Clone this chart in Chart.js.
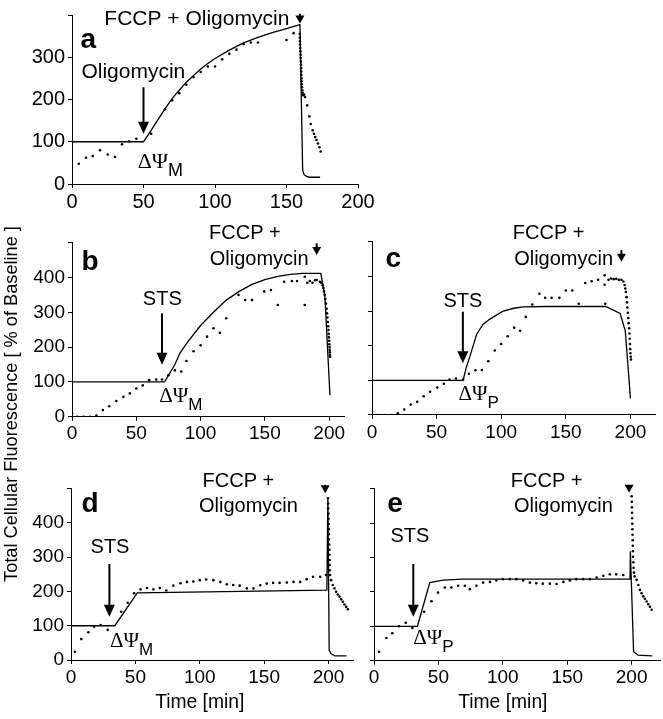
<!DOCTYPE html>
<html>
<head>
<meta charset="utf-8">
<script src="https://cdn.jsdelivr.net/npm/chart.js@4/dist/chart.umd.min.js"></script>
<style>
body { margin: 0; background: #fff; }
canvas { position: absolute; left: 0; top: 0; }
</style>
</head>
<body>
<canvas id="pa" width="663" height="719"></canvas>
<canvas id="pb" width="663" height="719"></canvas>
<canvas id="pc" width="663" height="719"></canvas>
<canvas id="pd" width="663" height="719"></canvas>
<canvas id="pe" width="663" height="719"></canvas>
<script>
'use strict';

// tick labels
let yLabelsA = [0, 100, 200, 300];
let yLabelsB = [0, 100, 200, 300, 400];
let noLabels = [];

// panel a
let aLine = [[0,100],[50,100],[55,125],[60,152],[65,178],[70,202],[75,222],[80,241],[85,257],[90,272],[95,285],[100,297],[110,317],[120,334],[130,347],[140,358],[150,368],[159.4,377],[161.3,32],[162.3,22],[164,18],[166,16],[173.5,16]];
let aDots = [[4.7,48],[9.8,62],[14.5,66],[19.6,80],[25,70],[30,64],[35,94],[40,101],[45,107],[55.4,119],[65,177],[70,198],[75,215],[80,235],[85,253],[90,265],[95,278],[100,278],[105,295],[110,308],[115,318],[120,331],[125,335],[130,335],[150,341],[155,357],
  [159.2,355],[159.3,346],[159.4,338],[159.5,330],[159.6,322],[159.7,314],[159.8,306],[159.9,298],[160,290],[160.1,282],[160.2,274],[160.3,266],[160.4,258],[160.5,250],[160.6,243],[160.7,236],[160.8,229],[161,222],[161.3,216],[161.7,210],[162.3,212],[163,206],[164.5,186],[166,160],[166.9,142],[168.3,127],[169.2,119],[170.1,111],[171,104],[172,96],[173,87],[173.9,77]];

// panel b
let bLine = [[0,100],[72,100],[80,150],[84,183],[90,215],[100,262],[110,300],[120,335],[130,360],[140,380],[150,394],[160,403],[170,409],[178.8,412],[193.5,412],[196.7,345],[200.6,62]];
let bDots = [[0,10],[4,0],[9,0],[14,0],[19,3],[24,19],[29,30],[34.5,45],[40,57],[45,67],[50,81],[55,90],[60,105],[65.5,107],[70,107],[75,119],[80,133],[85,130],[89,160],[94.5,188],[100,205],[105,230],[110,254],[115,241],[120,283],[129.5,350],[134.7,335],[140,335],[149.5,360],[154.7,364],[160,321],[165,388],[171,390],[175,390],[181,402],[181,321],[183,385],[185,390],[187,385],[189,392],[190.3,393],[192.8,388],
  [194,384],[195,378],[195.5,370],[196,360],[196.5,350],[197,338],[197.5,325],[198,310],[198.3,297],[198.6,285],[198.9,272],[199.2,260],[199.4,249],[199.6,238],[199.8,228],[200,218],[200.1,208],[200.3,200],[200.4,192],[200.5,185],[200.6,178],[200.7,172]];

// panel c
let cLine = [[0,100],[70.5,100],[73,138],[75.6,167],[81,233],[86,262],[91,276],[96.5,289],[101.6,300],[109.6,308],[117,312],[134.6,313],[180.8,313],[192,293],[196,243],[200,48]];
let cDots = [[0,10],[5,0],[10,0],[15,0],[20,5],[25,16],[30,30],[35,38],[40,54],[45,67],[50.5,79],[55.6,90],[60,102],[65,105],[70.5,102],[75,119],[80,129],[85,130],[90,155],[95,186],[100,205],[105,227],[110,252],[114.6,243],[119,283],[124,319],[129.5,350],[134,338],[139,338],[145,338],[150,359],[155,359],[160,321],[165,381],[170,386],[175,390],[180,403],[180,376],[180.5,321],[183,390],[185,394],[187,392],[189,393],[191,390],[193,390],[194.5,385],
  [195.5,375],[196,365],[196.5,355],[197,340],[197.3,325],[197.6,310],[198,295],[198.3,280],[198.6,265],[198.9,250],[199.2,235],[199.4,220],[199.6,205],[199.8,190],[200,178],[200.2,168],[200.4,160]];

// panel d
let dLine = [[0,100],[34,100],[51.5,196],[198.7,204],[199.5,476],[200.5,29],[202,18],[205,12],[214,12]];
let dDots = [[3,24],[8,61],[13.5,81],[18,97],[23,102],[28.5,88],[39,141],[44,167],[49,195],[54,206],[59,210],[64,206],[69,210],[74,203],[79.5,217],[85,224],[90,228],[95,229],[100,233],[105,235],[110.6,233],[116,228],[121,221],[126,219],[131,217],[136.5,209],[141.7,209],[147,218],[152,223],[157,225],[162,225],[167.6,226],[172.8,228],[178,228],[183,236],[188,243],[193.5,243],[198,248],
  [199.6,472],[199.7,457],[199.8,442],[199.9,427],[200,412],[200.1,397],[200.2,382],[200.3,367],[200.4,352],[200.5,337],[200.6,322],[200.7,307],[200.8,292],[200.9,277],[201,262],[201.2,248],[202,233],[203.3,219],[204.6,209],[205.9,199],[207.2,191],[208.5,185],[209.8,177],[211.1,170],[212.4,162],[213.7,155],[215,148]];

// panel e
let eLine = [[0,100],[33.7,100],[43.3,227],[53.6,234],[69,237],[198.7,237],[199,318],[201.5,26],[205,16],[216,14]];
let eDots = [[3.9,26],[9.6,66],[14.2,80],[19.4,100],[24.6,110],[29.8,95],[38.9,142],[44.6,173],[49.7,198],[55,213],[60,213],[65.3,218],[70.5,218],[74.4,208],[79.5,218],[84.7,227],[90,229],[95,233],[100,237],[105.4,237],[110.6,237],[115.8,233],[121,227],[126,225],[131,224],[136.5,224],[141.7,223],[147,229],[152,233],[157,237],[162.4,237],[167.6,237],[172.8,242],[178,247],[183,251],[188,251],[193.5,249],
  [200,478],[200.1,462],[200.2,446],[200.3,430],[200.4,414],[200.5,398],[200.6,382],[200.7,366],[200.8,350],[200.9,334],[201,318],[201.1,302],[201.3,286],[201.5,270],[201.8,256],[202.3,245],[203.9,235],[205.2,220],[206.4,206],[207.7,196],[209,187],[210.3,180],[211.6,172],[212.9,164],[214.2,157],[215.5,148]];

const SANS = "'Liberation Sans', Arial, Helvetica, sans-serif";
const SERIF = "'Liberation Serif', 'Times New Roman', serif";

function drawArrow(ctx, x, y0, y1, big) {
    let hl = big ? 12 : 8;
    let hw = big ? 5.5 : 4.5;
    ctx.lineWidth = 2;
    ctx.beginPath();
    ctx.moveTo(x, y0);
    ctx.lineTo(x, y1 - hl + 1);
    ctx.stroke();
    ctx.beginPath();
    ctx.moveTo(x - hw, y1 - hl);
    ctx.lineTo(x + hw, y1 - hl);
    ctx.lineTo(x, y1);
    ctx.closePath();
    ctx.fill();
}

const notesPlugin = {
    id: 'notes',
    afterDraw(chart, args, o) {
        let ctx = chart.ctx;
        let px = v => chart.scales.x.getPixelForValue(v);
        let py = v => chart.scales.y.getPixelForValue(v);
        ctx.save();
        ctx.fillStyle = '#000';
        ctx.strokeStyle = '#000';
        ctx.textBaseline = 'alphabetic';
        if (o.letter) {
            ctx.font = 'bold 28px ' + SANS;
            ctx.textAlign = 'center';
            ctx.fillText(o.letter.text, px(o.letter.x), py(o.letter.y));
        }
        (o.texts || []).forEach(t => {
            ctx.font = (t.size || o.size) + 'px ' + SANS;
            ctx.textAlign = 'center';
            ctx.fillText(t.text, px(t.x), py(t.y));
        });
        (o.arrows || []).forEach(a => drawArrow(ctx, px(a.x), py(a.from), py(a.to), a.big));
        if (o.psi) {
            ctx.textAlign = 'left';
            ctx.font = (o.size + 1) + 'px ' + SERIF;
            let x0 = px(o.psi.x), y0 = py(o.psi.y);
            ctx.fillText('\u0394\u03A8', x0, y0);
            let w = ctx.measureText('\u0394\u03A8').width;
            ctx.font = (o.size - 3) + 'px ' + SANS;
            ctx.fillText(o.psi.sub, x0 + w, y0 + 8);
        }
        if (o.yTitle) {
            ctx.translate(o.yTitle.cx, o.yTitle.cy);
            ctx.rotate(-Math.PI / 2);
            ctx.font = '18.2px ' + SANS;
            ctx.textAlign = 'center';
            ctx.textBaseline = 'middle';
            ctx.fillText(o.yTitle.text, 0, 0);
        }
        ctx.restore();
    }
};

function makePanel(id, line, dots, xMax, yMax, yLabels, tickSize, pad, notes) {
    let ctx = document.getElementById(id).getContext('2d');
    return new Chart(ctx, {
        type: 'scatter',
        data: {
            datasets: [{
                data: line.map(p => ({x: p[0], y: p[1]})),
                showLine: true,
                borderColor: '#000',
                borderWidth: 1.3,
                pointRadius: 0,
                tension: 0
            }, {
                data: dots.map(p => ({x: p[0], y: p[1]})),
                showLine: false,
                backgroundColor: '#000',
                borderWidth: 0,
                pointRadius: 1.3
            }]
        },
        options: {
            responsive: false,
            animation: false,
            devicePixelRatio: 1,
            layout: { padding: pad, autoPadding: false },
            plugins: { legend: { display: false }, tooltip: { enabled: false }, notes: notes },
            scales: {
                x: {
                    type: 'linear', min: 0, max: xMax,
                    afterFit: s => { s.height = 30; },
                    ticks: { stepSize: 50, includeBounds: false, autoSkip: false, maxRotation: 0,
                             color: '#000', padding: 2, font: { size: tickSize, family: SANS } },
                    grid: { drawOnChartArea: false, tickLength: 4, color: '#000' },
                    border: { color: '#000', width: 1 }
                },
                y: {
                    type: 'linear', min: 0, max: yMax,
                    afterFit: s => { s.width = 50; },
                    ticks: { stepSize: 100, autoSkip: false, color: '#000', padding: 3,
                             font: { size: tickSize, family: SANS },
                             callback: v => yLabels.includes(v) ? String(v) : '' },
                    grid: { drawOnChartArea: false, tickLength: 4, color: '#000' },
                    border: { color: '#000', width: 1 }
                }
            }
        },
        plugins: [notesPlugin]
    });
}

makePanel('pa', aLine, aDots, 200, 400, yLabelsA, 20,
    { left: 22, right: 305, top: 8, bottom: 505 },
    { size: 21,
      letter: { text: 'a', x: 11.4, y: 323 },
      texts: [{ text: 'Oligomycin', x: 42.9, y: 250 }, { text: 'FCCP + Oligomycin', x: 87.3, y: 376.6 }],
      arrows: [{ x: 50, from: 229, to: 119, big: true }, { x: 159.4, from: 403, to: 380, big: false }],
      psi: { x: 45.9, y: 39, sub: 'M' } });

makePanel('pb', bLine, bDots, 212, 500, yLabelsB, 19,
    { left: 22, right: 318.4, top: 242.7, bottom: 272.3 },
    { size: 20,
      letter: { text: 'b', x: 14, y: 421 },
      texts: [{ text: 'STS', x: 70.2, y: 321 }, { text: 'FCCP +', x: 134.5, y: 512 }, { text: 'Oligomycin', x: 145.6, y: 436 }],
      arrows: [{ x: 70, from: 297, to: 149, big: true }, { x: 190.3, from: 498, to: 465, big: false }],
      psi: { x: 67.9, y: 43, sub: 'M' },
      yTitle: { text: 'Total Cellular Fluorescence [ % of Baseline ]', cx: 12, cy: 404 } });

makePanel('pc', cLine, cDots, 219, 500, noLabels, 19,
    { left: 322, right: 8, top: 241.7, bottom: 274 },
    { size: 20,
      letter: { text: 'c', x: 16.5, y: 428 },
      texts: [{ text: 'STS', x: 70.3, y: 312 }, { text: 'FCCP +', x: 136.7, y: 508 }, { text: 'Oligomycin', x: 148.3, y: 433 }],
      arrows: [{ x: 70.3, from: 298, to: 149, big: true }, { x: 193, from: 476, to: 442, big: false }],
      psi: { x: 66.9, y: 43, sub: 'P' } });

makePanel('pd', dLine, dDots, 219, 500, yLabelsB, 19,
    { left: 21, right: 310, top: 488.7, bottom: 29 },
    { size: 20,
      letter: { text: 'd', x: 14.8, y: 433 },
      texts: [{ text: 'STS', x: 30.3, y: 311 }, { text: 'FCCP +', x: 130, y: 506 }, { text: 'Oligomycin', x: 137.8, y: 433 },
              { text: 'Time [min]', x: 100, y: -140, size: 19.3 }],
      arrows: [{ x: 29.8, from: 280, to: 126, big: true }, { x: 197.4, from: 511, to: 487, big: false }],
      psi: { x: 30.3, y: 39, sub: 'M' } });

makePanel('pe', eLine, eDots, 222, 500, noLabels, 19,
    { left: 324, right: 3, top: 488.7, bottom: 28.3 },
    { size: 20,
      letter: { text: 'e', x: 16.3, y: 433 },
      texts: [{ text: 'STS', x: 27.9, y: 346 }, { text: 'FCCP +', x: 134, y: 506 }, { text: 'Oligomycin', x: 147, y: 433 },
              { text: 'Time [min]', x: 100, y: -137.5, size: 19.3 }],
      arrows: [{ x: 30.5, from: 281, to: 128, big: true }, { x: 198, from: 511, to: 488, big: false }],
      psi: { x: 30.5, y: 50, sub: 'P' } });
</script>
</body>
</html>
